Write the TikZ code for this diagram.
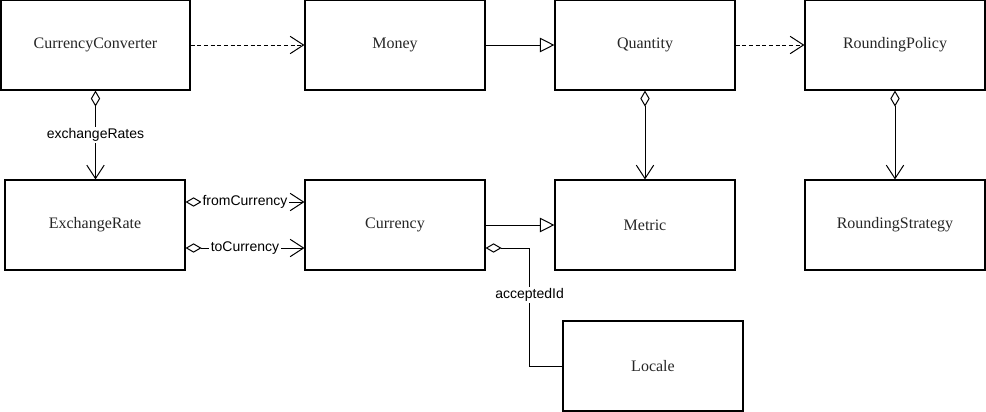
\documentclass[tikz,border=0pt]{standalone}
\usepackage{fontspec}
\setmainfont{Liberation Serif}
\setsansfont{Liberation Sans}
\usetikzlibrary{arrows.meta,calc}

\begin{document}
\begin{tikzpicture}[x=0.75pt,y=-0.75pt,line width=0.75pt,
	cls/.style={draw,line width=0.85pt,minimum width=135pt,minimum height=67.5pt,text=black!85,font=\fontsize{12}{14}\selectfont},
	lbl/.style={fill=white,inner sep=1pt,font=\sffamily\fontsize{10.5}{12}\selectfont},
	uses/.style={dash pattern=on 3pt off 2pt,-{Straight Barb[length=10pt,width=13pt]}},
	isa/.style={-{Triangle[open,length=11pt,width=11pt]}},
	has/.style={{Diamond[open,length=12pt,width=7pt]}-{Straight Barb[length=10pt,width=13pt]}},
	hasnoend/.style={{Diamond[open,length=12pt,width=7pt]}-}]
	\useasboundingbox (0,0) rectangle (986,411);

	\node [cls,minimum width=141.75pt] (conv) at (95.5,45) {CurrencyConverter};
	\foreach \name/\pos/\txt in {money/{(395,45)}/Money, qty/{(645,45)}/Quantity,
		policy/{(895,45)}/RoundingPolicy, rate/{(95,225)}/ExchangeRate,
		cur/{(395,225)}/Currency, metric/{(645,225)}/Metric,
		strat/{(895,225)}/RoundingStrategy, locale/{(653,366)}/Locale}
		\node [cls] (\name) at \pos {\txt};

	% dependencies and inheritance
	\draw [uses] (conv) -- (money);
	\draw [isa] (money) -- (qty);
	\draw [uses] (qty) -- (policy);
	\draw [isa] (cur) -- (metric);

	% aggregations
	\draw [has] (conv.south) -- node[lbl]{exchangeRates} (conv.south |- rate.north);
	\draw [has] (qty) -- (metric);
	\draw [has] (policy) -- (strat);
	\draw [has] ($(rate.east)+(0,-23)$) -- node[lbl]{fromCurrency} ($(cur.west)+(0,-23)$);
	\draw [has] ($(rate.east)+(0,23)$) -- node[lbl]{toCurrency} ($(cur.west)+(0,23)$);
	\draw [hasnoend] ($(cur.east)+(0,23)$) -- ++(44,0) |- node[lbl,pos=0.2]{acceptedId} (locale.west);
\end{tikzpicture}
\end{document}
